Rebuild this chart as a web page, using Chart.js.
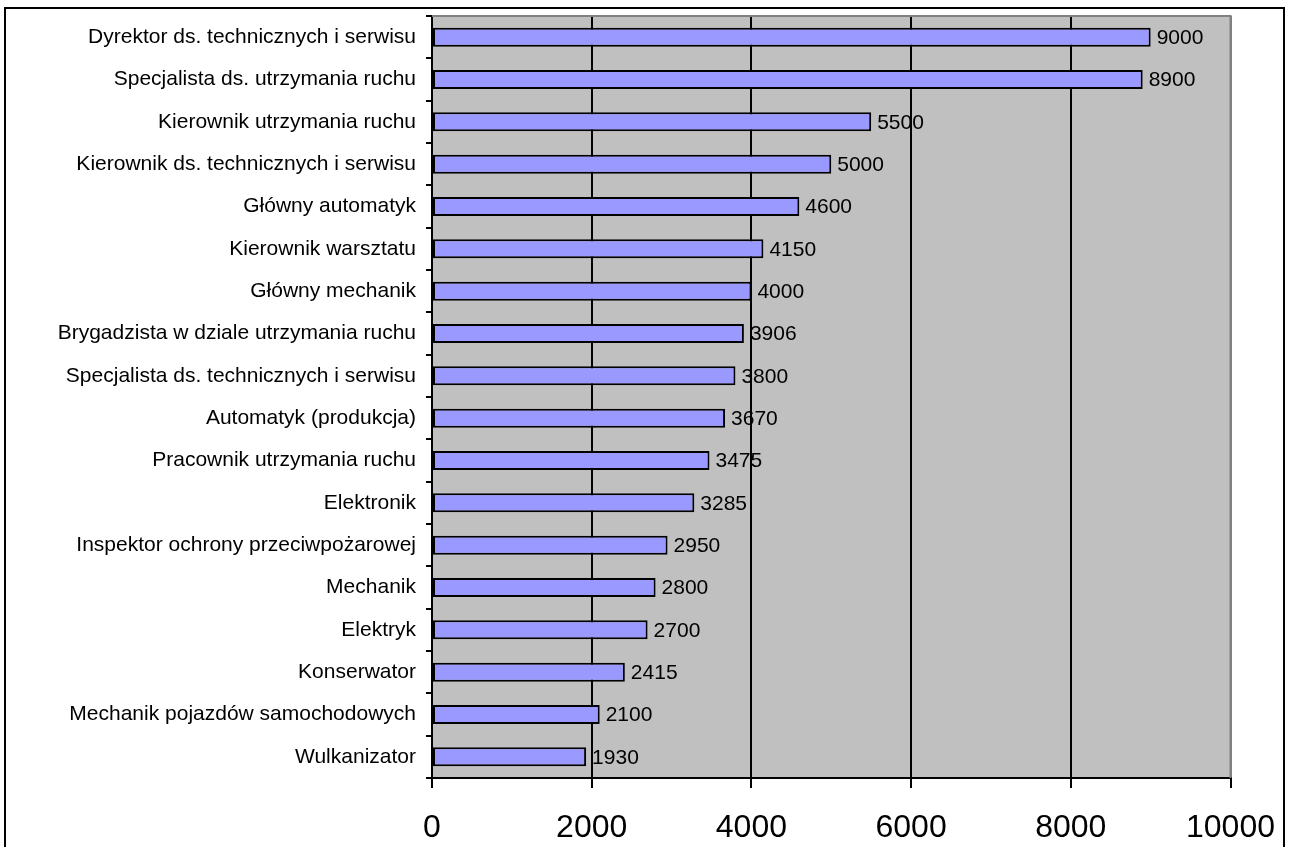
<!DOCTYPE html>
<html>
<head>
<meta charset="utf-8">
<script src="https://cdn.jsdelivr.net/npm/chart.js@4.4.1/dist/chart.umd.min.js"></script>
<style>
  html, body { margin: 0; padding: 0; background: #fff; }
  #frame { position: absolute; left: 4px; top: 7px; width: 1277px; height: 860px; border: 2px solid #000; }
  #wrap { position: absolute; left: 0; top: 0; width: 1296px; height: 847px; }
</style>
</head>
<body>
<div id="frame"></div>
<div id="wrap"><canvas id="myChart" width="1296" height="847"></canvas></div>
<script>
'use strict';

// DATA
// ====
var labels = [
    'Dyrektor ds. technicznych i serwisu',
    'Specjalista ds. utrzymania ruchu',
    'Kierownik utrzymania ruchu',
    'Kierownik ds. technicznych i serwisu',
    'Główny automatyk',
    'Kierownik warsztatu',
    'Główny mechanik',
    'Brygadzista w dziale utrzymania ruchu',
    'Specjalista ds. technicznych i serwisu',
    'Automatyk (produkcja)',
    'Pracownik utrzymania ruchu',
    'Elektronik',
    'Inspektor ochrony przeciwpożarowej',
    'Mechanik',
    'Elektryk',
    'Konserwator',
    'Mechanik pojazdów samochodowych',
    'Wulkanizator'
];
var salaries = [9000, 8900, 5500, 5000, 4600, 4150, 4000, 3906, 3800, 3670, 3475, 3285, 2950, 2800, 2700, 2415, 2100, 1930];
var xTicks = [0, 2000, 4000, 6000, 8000, 10000];

var FONT = 'Arial, "Liberation Sans", sans-serif';

// PLUGINS
// =======
var plotArea = {
    id: 'plotArea',
    beforeDraw: function (chart) {
        var a = chart.chartArea, ctx = chart.ctx;
        ctx.save();
        ctx.fillStyle = '#C0C0C0';
        ctx.fillRect(a.left, a.top, a.right - a.left, a.bottom - a.top);
        ctx.restore();
    },
    afterDraw: function (chart) {
        var a = chart.chartArea, ctx = chart.ctx;
        ctx.save();
        ctx.strokeStyle = '#808080';
        ctx.lineWidth = 2;
        ctx.beginPath();
        ctx.moveTo(a.left, a.top);
        ctx.lineTo(a.right, a.top);
        ctx.lineTo(a.right, a.bottom);
        ctx.stroke();
        ctx.restore();
    }
};

var valueLabels = {
    id: 'valueLabels',
    afterDatasetsDraw: function (chart) {
        var ctx = chart.ctx;
        var meta = chart.getDatasetMeta(0);
        ctx.save();
        ctx.font = '21px ' + FONT;
        ctx.fillStyle = '#000';
        ctx.textAlign = 'left';
        ctx.textBaseline = 'middle';
        meta.data.forEach(function (bar, i) {
            ctx.fillText(String(salaries[i]), bar.x + 6, bar.y + 1);
        });
        ctx.restore();
    }
};

// CHART
// =====
var ctx = document.getElementById('myChart');
var myChart = new Chart(ctx, {
    type: 'bar',
    data: {
        labels: labels,
        datasets: [{
            data: salaries,
            backgroundColor: '#9999FF',
            borderColor: '#000',
            borderWidth: 2,
            borderSkipped: false,
            categoryPercentage: 1,
            barPercentage: 0.45
        }]
    },
    options: {
        indexAxis: 'y',
        responsive: false,
        animation: false,
        layout: { padding: { top: 16, right: 64, bottom: 0, left: 0 } },
        plugins: {
            legend: { display: false },
            tooltip: { enabled: false }
        },
        scales: {
            x: {
                min: 0,
                max: 10000,
                afterBuildTicks: function (scale) {
                    scale.ticks = xTicks.map(function (v) { return { value: v }; });
                },
                afterFit: function (scale) { scale.height = 69; },
                grid: {
                    color: function (c) {
                        return c.tick && c.tick.value === 10000 ? '#808080' : '#000';
                    },
                    lineWidth: 2,
                    tickColor: '#000',
                    tickLength: 10
                },
                border: { color: '#000', width: 2 },
                ticks: {
                    color: '#000',
                    font: { family: FONT, size: 32 },
                    padding: 21,
                    maxRotation: 0,
                    callback: function (v) { return String(v); }
                }
            },
            y: {
                afterFit: function (scale) {
                    scale.width = 432;
                    scale.paddingTop = 0;
                    scale.paddingBottom = 0;
                },
                grid: {
                    drawOnChartArea: false,
                    tickColor: '#000',
                    tickLength: 6,
                    lineWidth: 2
                },
                border: { color: '#000', width: 2 },
                ticks: {
                    color: '#000',
                    font: { family: FONT, size: 21 },
                    padding: 10,
                    autoSkip: false
                }
            }
        }
    },
    plugins: [plotArea, valueLabels]
});
</script>
</body>
</html>
